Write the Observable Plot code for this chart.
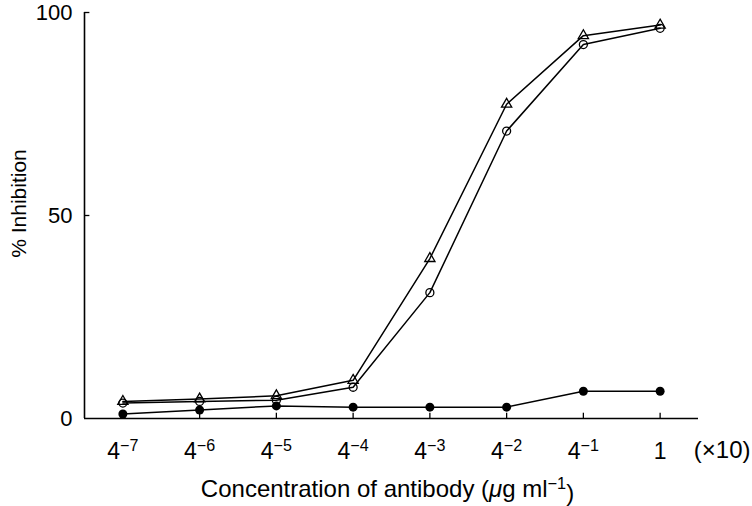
<!DOCTYPE html>
<html>
<head>
<meta charset="utf-8">
<script src="https://cdn.jsdelivr.net/npm/d3@7"></script>
<script src="https://cdn.jsdelivr.net/npm/@observablehq/plot@0.6"></script>
<style>
  html, body { margin: 0; padding: 0; background: white; }
</style>
</head>
<body>
<div id="chart"></div>
<script>
// Exponents of 4 (concentration = 4^e, ×10 µg/ml)
const exponents = [-7, -6, -5, -4, -3, -2, -1, 0];
const tickBase = "4";
const yTicks = [0, 50, 100];
// % inhibition series
const openTriangle = [4.2, 4.8, 5.6, 9.4, 39.4, 77.4, 94.3, 96.9];
const openCircle   = [3.8, 4.2, 4.5, 7.7, 31.0, 70.8, 92.1, 96.1];
const filledCircle = [1.1, 2.1, 3.1, 2.8, 2.8, 2.8, 6.7, 6.7];

const rows = (vals) => exponents.map((e, i) => ({e, v: vals[i]}));
const tri = rows(openTriangle), circ = rows(openCircle), fill = rows(filledCircle);

const font = "'Liberation Sans', Arial, Helvetica, sans-serif";

const chart = Plot.plot({
  width: 752,
  height: 506,
  marginLeft: 84,
  marginRight: 54,
  marginTop: 12,
  marginBottom: 88,
  style: {fontFamily: font, fontSize: "21px", background: "white", color: "black", overflow: "visible"},
  x: {domain: [-7.5, 0.5]},
  y: {domain: [0, 100]},
  marks: [
    Plot.axisX({ticks: exponents, tickSize: 0, tickPadding: 24, label: null,
      tickFormat: d => d === 0 ? "1" : tickBase + "^" + d}),
    Plot.axisY({ticks: yTicks, tickSize: 0, tickPadding: 12, label: null}),
    Plot.ruleX(exponents, {y1: 0, y2: 1.3, stroke: "black", strokeWidth: 1.3}),
    Plot.ruleY([50, 100], {x1: -7.5, x2: -7.43, stroke: "black", strokeWidth: 1.3}),
    Plot.ruleX([-7.5], {stroke: "black", strokeWidth: 1.6}),
    Plot.ruleY([0], {stroke: "black", strokeWidth: 1.6}),
    Plot.line(fill, {x: "e", y: "v", stroke: "black", strokeWidth: 1.5}),
    Plot.line(circ, {x: "e", y: "v", stroke: "black", strokeWidth: 1.5}),
    Plot.line(tri, {x: "e", y: "v", stroke: "black", strokeWidth: 1.5}),
    Plot.dot(fill, {x: "e", y: "v", r: 4.5, fill: "black", stroke: "none"}),
    Plot.dot(circ, {x: "e", y: "v", r: 4, fill: "none", stroke: "black", strokeWidth: 1.3}),
    Plot.dot(tri, {x: "e", y: "v", r: 3.8, symbol: "triangle", fill: "none", stroke: "black", strokeWidth: 1.3}),
    Plot.text(["% Inhibition"], {frameAnchor: "left", rotate: -90, dx: -65, dy: -12,
      fontSize: 21, textAnchor: "middle", lineAnchor: "middle", fill: "black"}),
    Plot.text(["Concentration of antibody (μg ml^-1)"], {frameAnchor: "bottom", dx: -4, dy: 71,
      fontSize: 24, textAnchor: "middle", lineAnchor: "middle", fill: "black"}),
    Plot.text(["(×10)"], {frameAnchor: "bottom-right", dx: 52, dy: 32,
      fontSize: 24, textAnchor: "end", lineAnchor: "middle", fill: "black"})
  ]
});

document.getElementById("chart").appendChild(chart);

const svg = d3.select(chart);
// x tick labels: larger font and superscripts
svg.selectAll('g[aria-label="x-axis tick label"]').attr("font-size", 23);
svg.selectAll('g[aria-label="x-axis tick label"] text').attr("font-size", 23).each(function () {
  const t = d3.select(this);
  const s = t.text();
  if (s.includes("^")) {
    const [b, e] = s.split("^");
    t.text(null);
    t.append("tspan").text(b);
    t.append("tspan").attr("dy", "-0.5em").attr("font-size", "0.7em").text("−" + String(e).replace("-", ""));
  }
});
svg.selectAll('g[aria-label="y-axis tick label"]').attr("font-size", 22);
svg.selectAll('g[aria-label="y-axis tick label"] text').attr("font-size", 22);
// rich axis title
svg.selectAll("text").filter(function () { return d3.select(this).text().startsWith("Concentration"); }).each(function () {
  const t = d3.select(this);
  t.text(null);
  t.append("tspan").text("Concentration of antibody (");
  t.append("tspan").attr("font-style", "italic").text("μ");
  t.append("tspan").text("g ml");
  t.append("tspan").attr("dy", "-0.5em").attr("font-size", "0.68em").text("−1");
  t.append("tspan").attr("dy", "0.5em").text(")");
});
</script>
</body>
</html>
